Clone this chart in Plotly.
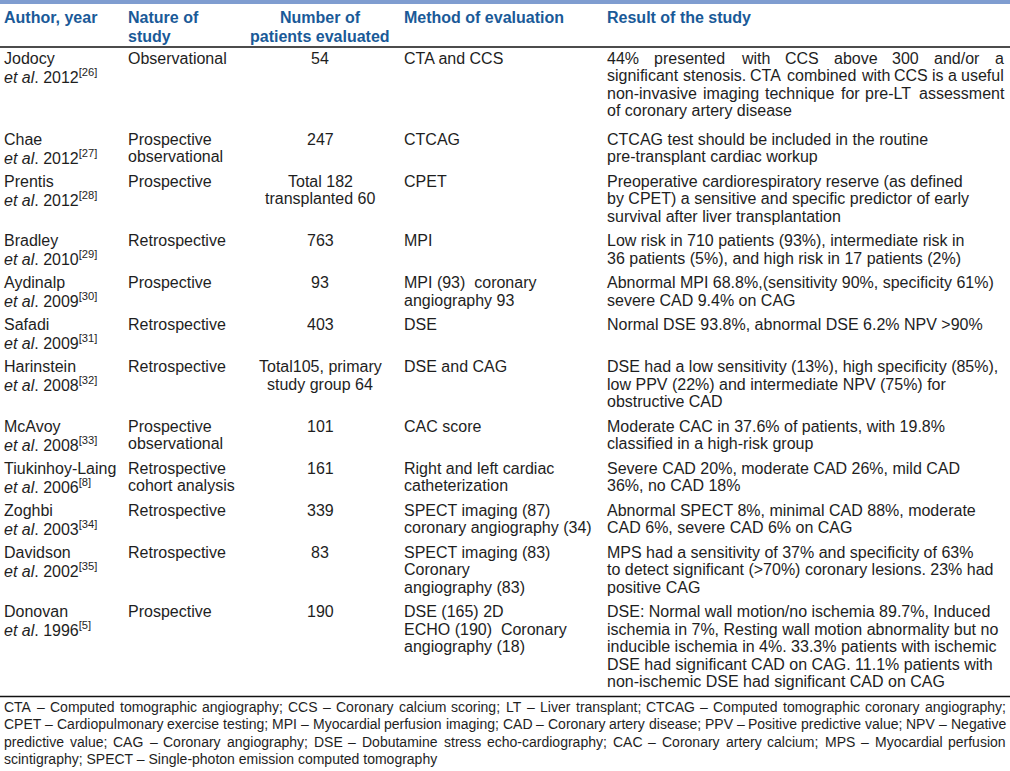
import plotly.graph_objects as go

# ---------------- data ----------------
header_cols = [["Author, year"], ["Nature of", "study"], ["Number of", "patients evaluated"],
               ["Method of evaluation"], ["Result of the study"]]

authors = ["Jodocy", "Chae", "Prentis", "Bradley", "Aydinalp", "Safadi", "Harinstein",
           "McAvoy", "Tiukinhoy-Laing", "Zoghbi", "Davidson", "Donovan"]
years = ["2012", "2012", "2012", "2010", "2009", "2009", "2008", "2008", "2006", "2003", "2002", "1996"]
refs = ["26", "27", "28", "29", "30", "31", "32", "33", "8", "34", "35", "5"]

nature = [["Observational"], ["Prospective", "observational"], ["Prospective"], ["Retrospective"],
          ["Prospective"], ["Retrospective"], ["Retrospective"], ["Prospective", "observational"],
          ["Retrospective", "cohort analysis"], ["Retrospective"], ["Retrospective"], ["Prospective"]]

patients = [["54"], ["247"], ["Total 182", "transplanted 60"], ["763"], ["93"], ["403"],
            ["Total105, primary", "study group 64"], ["101"], ["161"], ["339"], ["83"], ["190"]]

methods = [["CTA and CCS"], ["CTCAG"], ["CPET"], ["MPI"],
           ["MPI (93)\u00a0 coronary", "angiography 93"], ["DSE"], ["DSE and CAG"], ["CAC score"],
           ["Right and left cardiac", "catheterization"],
           ["SPECT imaging (87)", "coronary angiography (34)"],
           ["SPECT imaging (83)", "Coronary", "angiography (83)"],
           ["DSE (165) 2D", "ECHO (190)\u00a0 Coronary", "angiography (18)"]]

results = [
    ["44% presented with CCS above 300 and/or a",
     "significant stenosis. CTA combined with CCS is a useful",
     "non-invasive imaging technique for pre-LT assessment",
     "of coronary artery disease"],
    ["CTCAG test should be included in the routine", "pre-transplant cardiac workup"],
    ["Preoperative cardiorespiratory reserve (as defined",
     "by CPET) a sensitive and specific predictor of early",
     "survival after liver transplantation"],
    ["Low risk in 710 patients (93%), intermediate risk in",
     "36 patients (5%), and high risk in 17 patients (2%)"],
    ["Abnormal MPI 68.8%,(sensitivity 90%, specificity 61%)", "severe CAD 9.4% on CAG"],
    ["Normal DSE 93.8%, abnormal DSE 6.2% NPV >90%"],
    ["DSE had a low sensitivity (13%), high specificity (85%),",
     "low PPV (22%) and intermediate NPV (75%) for", "obstructive CAD"],
    ["Moderate CAC in 37.6% of patients, with 19.8%", "classified in a high-risk group"],
    ["Severe CAD 20%, moderate CAD 26%, mild CAD", "36%, no CAD 18%"],
    ["Abnormal SPECT 8%, minimal CAD 88%, moderate", "CAD 6%, severe CAD 6% on CAG"],
    ["MPS had a sensitivity of 37% and specificity of 63%",
     "to detect significant (>70%) coronary lesions. 23% had", "positive CAG"],
    ["DSE: Normal wall motion/no ischemia 89.7%, Induced",
     "ischemia in 7%, Resting wall motion abnormality but no",
     "inducible ischemia in 4%. 33.3% patients with ischemic",
     "DSE had significant CAD on CAG. 11.1% patients with",
     "non-ischemic DSE had significant CAD on CAG"],
]
justified_result_lines = {0: 3}   # row index -> number of leading justified lines

footnote = [
    "CTA – Computed tomographic angiography; CCS – Coronary calcium scoring; LT – Liver transplant; CTCAG – Computed tomographic coronary angiography;",
    "CPET – Cardiopulmonary exercise testing; MPI – Myocardial perfusion imaging; CAD – Coronary artery disease; PPV – Positive predictive value; NPV – Negative",
    "predictive value; CAG – Coronary angiography; DSE – Dobutamine stress echo-cardiography; CAC – Coronary artery calcium; MPS – Myocardial perfusion",
    "scintigraphy; SPECT – Single-photon emission computed tomography",
]

# ---------------- layout / style ----------------
W, H = 1010, 771
FONT = "Liberation Sans, Arial, sans-serif"
BODY_SIZE = 16
HEAD_SIZE = 16
FOOT_SIZE = 14
TEXT_COLOR = "#1e1e1e"
HEAD_COLOR = "#1a5a98"
BAND_COLOR = "#7f9dd0"
col_x = [4, 128, 320, 404, 607]
col_right = 1004
LH = 17.5
ROW_GAP = 7
FIRST_ROW_EXTRA = 4
first_row_y = 58
head_y = [17, 36]
rule_y_top = 47
foot_line_gap = 17.5

# Arial advance widths (per 1000 em)
AW = {' ': 278, '!': 278, '"': 355, '#': 556, '$': 556, '%': 889, '&': 667, "'": 191, '(': 333, ')': 333,
      '*': 389, '+': 584, ',': 278, '-': 333, '.': 278, '/': 278, ':': 278, ';': 278, '<': 584, '=': 584,
      '>': 584, '?': 556, '@': 1015, '[': 278, ']': 278, '–': 556, '\u00a0': 278,
      'A': 667, 'B': 667, 'C': 722, 'D': 722, 'E': 667, 'F': 611, 'G': 778, 'H': 722, 'I': 278, 'J': 500,
      'K': 667, 'L': 556, 'M': 833, 'N': 722, 'O': 778, 'P': 667, 'Q': 778, 'R': 722, 'S': 667, 'T': 611,
      'U': 722, 'V': 667, 'W': 944, 'X': 667, 'Y': 667, 'Z': 611,
      'a': 556, 'b': 556, 'c': 500, 'd': 556, 'e': 556, 'f': 278, 'g': 556, 'h': 556, 'i': 222, 'j': 222,
      'k': 500, 'l': 222, 'm': 833, 'n': 556, 'o': 556, 'p': 556, 'q': 556, 'r': 333, 's': 500, 't': 278,
      'u': 556, 'v': 500, 'w': 722, 'x': 500, 'y': 500, 'z': 500}


def tw(s, size):
    return sum(AW.get(c, 556) for c in s) * size / 1000.0


def esc(s):
    return s.replace("&", "&amp;").replace("<", "&lt;").replace(">", "&gt;")


annotations = []


def add_text(x, y, text, size=BODY_SIZE, color=TEXT_COLOR, anchor="left", bold=False):
    annotations.append(dict(
        x=x, y=y, xref="x", yref="y", text=("<b>%s</b>" % text) if bold else text,
        showarrow=False, xanchor=anchor, yanchor="middle", align=anchor,
        font=dict(family=FONT, size=size, color=color), borderpad=0, borderwidth=0))


def add_justified(x0, x1, y, line, size):
    words = line.split(" ")
    widths = [tw(w, size) for w in words]
    gap = (x1 - x0 - sum(widths)) / (len(words) - 1)
    x = x0
    for w, wd in zip(words, widths):
        add_text(x, y, esc(w), size=size)
        x += wd + gap


# header
for ci, lines in enumerate(header_cols):
    for li, t in enumerate(lines):
        anchor = "center" if ci == 2 else "left"
        add_text(col_x[ci], head_y[li], t, size=HEAD_SIZE, color=HEAD_COLOR, anchor=anchor, bold=True)

# body rows
y = first_row_y
for r in range(len(authors)):
    add_text(col_x[0], y, authors[r])
    add_text(col_x[0], y + LH, "<i>et al</i>. %s<sup>[%s]</sup>" % (years[r], refs[r]))
    for li, t in enumerate(nature[r]):
        add_text(col_x[1], y + li * LH, esc(t))
    for li, t in enumerate(patients[r]):
        add_text(col_x[2], y + li * LH, esc(t), anchor="center")
    for li, t in enumerate(methods[r]):
        add_text(col_x[3], y + li * LH, esc(t))
    nj = justified_result_lines.get(r, 0)
    for li, t in enumerate(results[r]):
        if li < nj:
            add_justified(col_x[4], col_right, y + li * LH, t, BODY_SIZE)
        else:
            add_text(col_x[4], y + li * LH, esc(t))
    n = max(2, len(nature[r]), len(patients[r]), len(methods[r]), len(results[r]))
    y += n * LH + ROW_GAP + (FIRST_ROW_EXTRA if r == 0 else 0)

last_body_y = y - ROW_GAP - LH
rule_y_bottom = last_body_y + 15
fy = rule_y_bottom + 10
for li, t in enumerate(footnote):
    if li < len(footnote) - 1:
        add_justified(4, 1006, fy + li * foot_line_gap, t, FOOT_SIZE)
    else:
        add_text(4, fy + li * foot_line_gap, esc(t), size=FOOT_SIZE)

shapes = [
    dict(type="rect", xref="x", yref="y", x0=0, x1=W, y0=0, y1=4, line=dict(width=0), fillcolor=BAND_COLOR),
    dict(type="line", xref="x", yref="y", x0=0, x1=W, y0=rule_y_top, y1=rule_y_top,
         line=dict(color="#111111", width=1.3)),
    dict(type="line", xref="x", yref="y", x0=0, x1=W, y0=rule_y_bottom, y1=rule_y_bottom,
         line=dict(color="#111111", width=1.3)),
]

fig = go.Figure()
fig.update_layout(
    width=W, height=H, margin=dict(l=0, r=0, t=0, b=0),
    paper_bgcolor="white", plot_bgcolor="white",
    xaxis=dict(range=[0, W], visible=False, fixedrange=True),
    yaxis=dict(range=[H, 0], visible=False, fixedrange=True),
    annotations=annotations, shapes=shapes, showlegend=False,
)
fig.write_html("out.html", config={"displayModeBar": False},
               post_script="document.body.style.margin='0';document.body.style.overflow='hidden';")
